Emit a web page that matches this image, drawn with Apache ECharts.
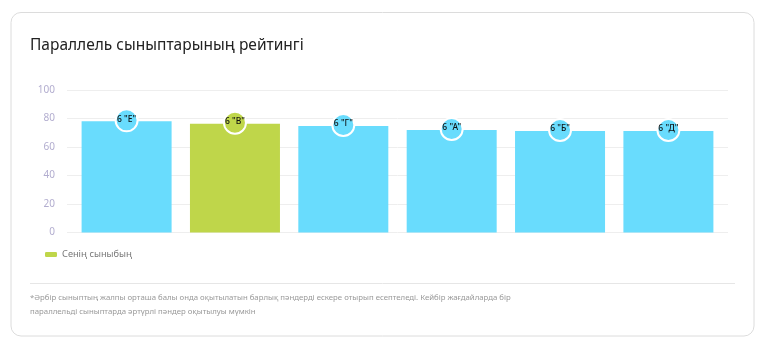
<!DOCTYPE html>
<html>
<head>
<meta charset="utf-8">
<script src="https://cdn.jsdelivr.net/npm/echarts@6/dist/echarts.min.js"></script>
<style>
  html, body { margin: 0; padding: 0; background: #fff; }
  #chart { width: 765px; height: 345px; }
</style>
</head>
<body>
<div id="chart"></div>
<script>
"use strict";

var categories = ['6 "Е"', '6 "В"', '6 "Г"', '6 "А"', '6 "Б"', '6 "Д"'];
var values = [78.0, 76.3, 74.7, 71.9, 71.2, 71.2];
var ownIndex = 1;
var yTicks = [0, 20, 40, 60, 80, 100];

var blue = '#69dcfd';
var green = '#bfd64a';
var font = '"Noto Sans", sans-serif';

var chart = echarts.init(document.getElementById('chart'));

// x is a hidden numeric axis: category i sits at x = i, with a little padding on both ends
var barData = values.map(function (v, i) {
    return {value: [i, v], itemStyle: {color: i === ownIndex ? green : blue}};
});

chart.setOption({
    animation: false,
    title: {
        text: 'Параллель сыныптарының рейтингі',
        left: 25,
        top: 33,
        textStyle: {fontFamily: font, fontSize: 15.5, fontWeight: 'normal', color: '#222'}
    },
    legend: {
        data: ['Сенің сыныбың'],
        left: 40,
        top: 245,
        icon: 'roundRect',
        itemWidth: 12,
        itemHeight: 5,
        textStyle: {fontFamily: font, fontSize: 9.2, color: '#777'}
    },
    grid: {left: 67, right: 37, top: 90, bottom: 112.5},
    xAxis: {
        type: 'value',
        min: -0.55,
        max: 5.55,
        show: false,
        splitLine: {show: false}
    },
    yAxis: {
        type: 'value',
        min: yTicks[0],
        max: yTicks[yTicks.length - 1],
        interval: 20,
        axisLine: {show: false},
        axisTick: {show: false},
        axisLabel: {fontFamily: font, fontSize: 10, color: '#b2adcf', margin: 12},
        splitLine: {lineStyle: {color: '#eeeeee'}}
    },
    series: [{
        name: 'Сенің сыныбың',
        type: 'bar',
        barWidth: 90,
        itemStyle: {color: green},
        data: barData
    }, {
        name: 'label',
        type: 'scatter',
        symbol: 'circle',
        symbolSize: 22,
        symbolOffset: [0, -1],
        z: 5,
        itemStyle: {borderColor: '#fff', borderWidth: 2, opacity: 1},
        label: {
            show: true,
            position: 'inside',
            offset: [0, -1],
            formatter: function (p) { return categories[p.dataIndex]; },
            fontFamily: font,
            fontSize: 8.5,
            fontWeight: 500,
            color: '#111'
        },
        data: barData
    }],
    graphic: [{
        type: 'rect',
        shape: {x: 11, y: 12.5, width: 743, height: 323.5, r: 10},
        style: {fill: 'none', stroke: '#dcdcdc', lineWidth: 1},
        z: -1
    }, {
        type: 'line',
        shape: {x1: 30, y1: 283.5, x2: 735, y2: 283.5},
        style: {stroke: '#e6e6e6', lineWidth: 1}
    }, {
        type: 'text',
        left: 30,
        top: 291,
        style: {
            text: '*Әрбір сыныптың жалпы орташа балы онда оқытылатын барлық пәндерді ескере отырып есептеледі. Кейбір жағдайларда бір\nпараллельді сыныптарда әртүрлі пәндер оқытылуы мүмкін',
            fontFamily: font,
            fontSize: 7.8,
            lineHeight: 14,
            fill: '#999'
        }
    }]
});
</script>
</body>
</html>
